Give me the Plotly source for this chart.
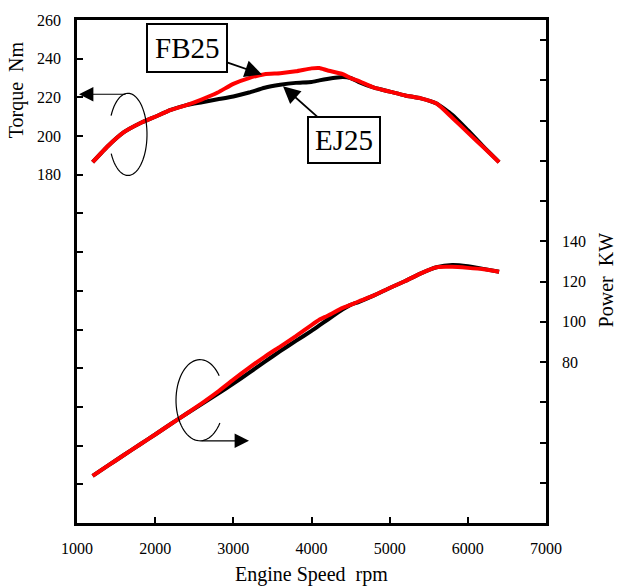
import numpy as np
import plotly.graph_objects as go

# ---------------- data ----------------
rpm = [1200, 1400, 1600, 1800, 2000, 2200, 2400, 2600, 2800, 3000, 3200, 3400, 3600,
       3800, 4000, 4100, 4200, 4400, 4500, 4600, 4800, 5000, 5200, 5400, 5600, 5800,
       6000, 6200, 6400]

torque_fb25 = [186.5, 195, 202, 206.5, 210, 213.5, 216, 219, 222.5, 227, 230, 232, 232.5,
               233.5, 235, 235.2, 234, 232, 230, 228.5, 225, 223, 221, 219.5, 216.8, 209.5,
               201.8, 194.2, 186.5]
torque_ej25 = [186.5, 195, 202, 206.5, 210, 213.5, 216, 217.5, 219, 220.5, 222.5, 225, 226.5,
               227.5, 228, 228.8, 229.5, 230.5, 230, 228, 225, 223, 221, 219.5, 216.8, 211,
               203, 194.5, 186.5]

power_fb25 = [23.4, 28.6, 33.8, 38.9, 44.0, 49.2, 54.3, 59.6, 65.2, 71.3, 77.1, 82.6, 87.7,
              92.9, 98.4, 101.0, 102.9, 106.9, 108.4, 110.1, 113.1, 116.8, 120.3, 124.1, 127.1,
              127.3, 126.8, 126.1, 124.9]
power_ej25 = [23.4, 28.6, 33.8, 38.9, 44.0, 49.2, 54.3, 59.2, 64.2, 69.3, 74.6, 80.1, 85.4,
              90.5, 95.5, 98.2, 100.9, 106.2, 108.4, 109.8, 113.1, 116.8, 120.3, 124.1, 127.1,
              128.2, 127.6, 126.3, 124.9]

x_ticks = [1000, 2000, 3000, 4000, 5000, 6000, 7000]
torque_ticks = list(range(0, 261, 20))
torque_labels = [str(v) if v >= 180 else "" for v in torque_ticks]
power_ticks = list(range(0, 241, 20))
power_labels = [str(v) if 80 <= v <= 140 else "" for v in power_ticks]

# ---------------- layout helpers ----------------
W, H = 617, 588
L, R, T, B = 77, 546, 15, 523
FONT = "Liberation Serif, Times New Roman, serif"


def px(x):
    return (x - L) / (R - L)


def py(y):
    return (B - y) / (B - T)


def arc_path(cx, cy, rx, ry, a0, a1, n=60):
    th = np.radians(np.linspace(a0, a1, n))
    xs = cx + rx * np.cos(th)
    ys = cy + ry * np.sin(th)
    pts = ["%s%.5f,%.5f" % ("M" if i == 0 else "L", px(a), py(b)) for i, (a, b) in enumerate(zip(xs, ys))]
    return " ".join(pts)


line_kw = dict(width=4, shape="spline", smoothing=0.5)

fig = go.Figure()
fig.add_trace(go.Scatter(x=rpm, y=torque_ej25, mode="lines", name="EJ25",
                         line=dict(color="black", **line_kw), yaxis="y"))
fig.add_trace(go.Scatter(x=rpm, y=torque_fb25, mode="lines", name="FB25",
                         line=dict(color="#ff0000", **line_kw), yaxis="y"))
fig.add_trace(go.Scatter(x=rpm, y=power_ej25, mode="lines", name="EJ25 power",
                         line=dict(color="black", **line_kw), yaxis="y2"))
fig.add_trace(go.Scatter(x=rpm, y=power_fb25, mode="lines", name="FB25 power",
                         line=dict(color="#ff0000", **line_kw), yaxis="y2"))

axis_common = dict(ticks="inside", ticklen=6, tickwidth=1.5, tickcolor="black",
                   showline=True, linewidth=2.5, linecolor="black",
                   showgrid=False, zeroline=False,
                   tickfont=dict(family=FONT, size=16, color="black"))

fig.update_layout(
    width=W, height=H, autosize=False,
    margin=dict(l=L, r=W - R, t=T, b=H - B, pad=0),
    paper_bgcolor="white", plot_bgcolor="white",
    showlegend=False,
    font=dict(family=FONT, color="black"),
    xaxis=dict(range=[1000, 7000], tickvals=x_ticks, mirror=True,
               ticklabelstandoff=9, **axis_common),
    yaxis=dict(range=[0, 260], tickvals=torque_ticks, ticktext=torque_labels,
               ticklabelstandoff=10, **axis_common),
    yaxis2=dict(range=[0, 250], tickvals=power_ticks, ticktext=power_labels,
                overlaying="y", side="right", ticklabelstandoff=10, **axis_common),
)

annotations = [
    dict(text="Torque\u00a0 Nm", x=px(16), y=py(86), xref="paper", yref="paper",
         textangle=-90, showarrow=False, font=dict(size=20), xanchor="center", yanchor="middle"),
    dict(text="Power\u00a0 KW", x=px(606), y=py(278), xref="paper", yref="paper",
         textangle=-90, showarrow=False, font=dict(size=20), xanchor="center", yanchor="middle"),
    dict(text="Engine Speed\u00a0 rpm", x=px(311), y=py(575), xref="paper", yref="paper",
         showarrow=False, font=dict(size=20), xanchor="center", yanchor="middle"),
    # FB25 label with arrow
    dict(text="FB25", x=px(262), y=py(70), xref="paper", yref="paper",
         ax=187 - 262, ay=44 - 70, axref="pixel", ayref="pixel",
         showarrow=True, arrowhead=2, arrowsize=1.9, arrowwidth=1.8, arrowcolor="black",
         font=dict(size=29), bordercolor="black", borderwidth=2, borderpad=7, bgcolor="white"),
    # EJ25 label with arrow
    dict(text="EJ25", x=px(283), y=py(82), xref="paper", yref="paper",
         ax=344 - 283, ay=136 - 82, axref="pixel", ayref="pixel",
         showarrow=True, arrowhead=2, arrowsize=1.9, arrowwidth=1.8, arrowcolor="black",
         font=dict(size=29), bordercolor="black", borderwidth=2, borderpad=6, bgcolor="white"),
    # torque axis pointer
    dict(text="", x=px(79), y=py(90), xref="paper", yref="paper",
         ax=48, ay=0, axref="pixel", ayref="pixel",
         showarrow=True, arrowhead=2, arrowsize=2.4, arrowwidth=1.2, arrowcolor="black"),
    # power axis pointer
    dict(text="", x=px(249), y=py(440), xref="paper", yref="paper",
         ax=-49, ay=0, axref="pixel", ayref="pixel",
         showarrow=True, arrowhead=2, arrowsize=2.4, arrowwidth=1.2, arrowcolor="black"),
]
fig.update_layout(annotations=annotations)

shapes = [
    dict(type="path", xref="paper", yref="paper",
         path=arc_path(128, 130.5, 19, 41.5, -153, 152),
         line=dict(color="black", width=1.2)),
    dict(type="path", xref="paper", yref="paper",
         path=arc_path(200, 399, 24, 41, -37, -326),
         line=dict(color="black", width=1.2)),
]
fig.update_layout(shapes=shapes)

fig.write_html("out.html", config={"displayModeBar": False},
               post_script="document.body.style.margin='0';")
